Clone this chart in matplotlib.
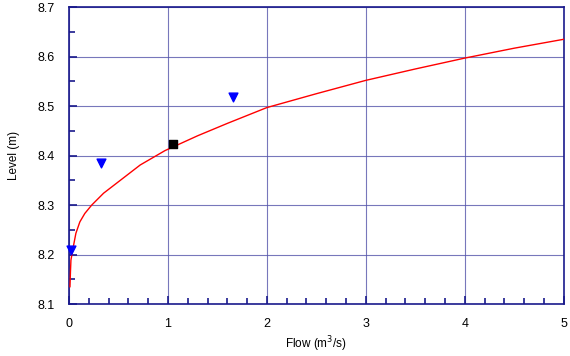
import matplotlib
matplotlib.use('Agg')
import matplotlib.pyplot as plt
from matplotlib.ticker import MultipleLocator

plt.rcParams['font.family'] = ['Liberation Sans', 'DejaVu Sans']

# rating curve
curve_flow = [0.01, 0.015, 0.02, 0.044, 0.07, 0.11, 0.16, 0.23, 0.35, 0.48, 0.72, 0.97,
              1.3, 1.6, 2.0, 2.5, 3.0, 3.5, 4.0, 4.5, 5.0]
curve_level = [8.135, 8.165, 8.189, 8.216, 8.243, 8.266, 8.283, 8.30, 8.324, 8.344, 8.381, 8.41,
               8.44, 8.465, 8.497, 8.525, 8.552, 8.575, 8.597, 8.617, 8.635]

# measurements
meas_flow = [0.02, 0.32, 1.66]
meas_level = [8.209, 8.385, 8.518]

# single gauging
gauge_flow = [1.05]
gauge_level = [8.423]

navy = '#1a1a8c'

fig = plt.figure(figsize=(5.7, 3.56), dpi=100)
ax = fig.add_axes([0.121, 0.146, 0.868, 0.834])

ax.plot(curve_flow, curve_level, color='red', lw=1, zorder=3)
ax.scatter(meas_flow, meas_level, marker='v', s=40, color='blue', zorder=4, clip_on=False)
ax.scatter(gauge_flow, gauge_level, marker='s', s=36, color='black', zorder=4)

ax.set_xlim(0, 5)
ax.set_ylim(8.1, 8.7)
ax.xaxis.set_major_locator(MultipleLocator(1))
ax.xaxis.set_minor_locator(MultipleLocator(0.2))
ax.yaxis.set_major_locator(MultipleLocator(0.1))
ax.yaxis.set_minor_locator(MultipleLocator(0.05))
ax.yaxis.set_major_formatter(plt.FuncFormatter(lambda v, p: '%.1f' % v))

ax.grid(True, which='major', color='#5555aa', lw=0.8, alpha=0.8)
for s in ax.spines.values():
    s.set_color(navy)
    s.set_linewidth(1.2)

ax.tick_params(which='both', direction='in', color=navy, labelsize=9, width=1.2)
ax.tick_params(which='major', length=6, pad=10)
ax.tick_params(which='minor', length=4)

ax.set_xlabel('Flow (m$^3$/s)', fontsize=8.5, labelpad=3)
ax.set_ylabel('Level (m)', fontsize=8.5, labelpad=13)

fig.savefig('out.png', dpi=100)
